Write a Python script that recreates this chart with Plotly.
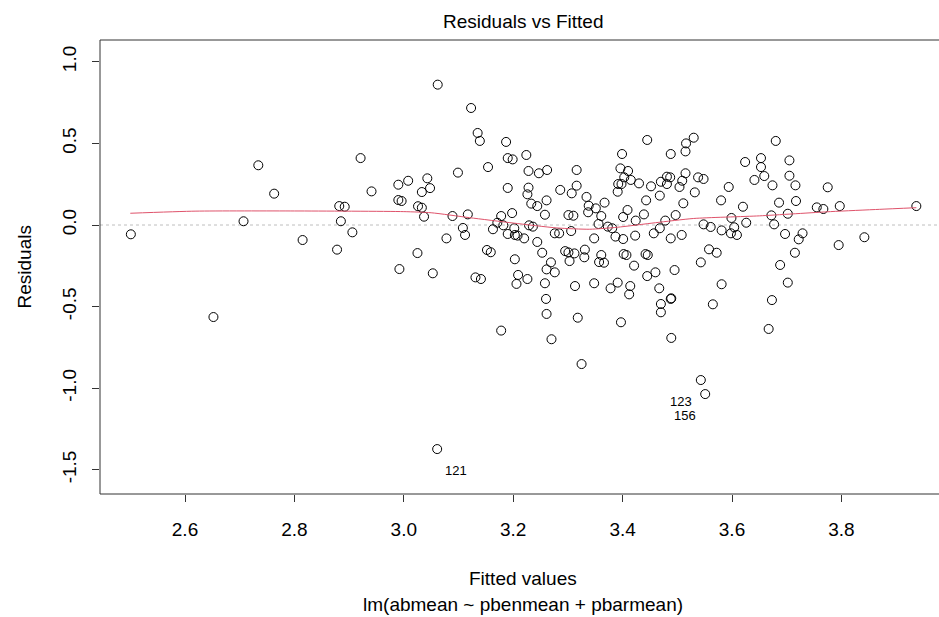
import plotly.graph_objects as go

# Fitted values and residuals of lm(abmean ~ pbenmean + pbarmean)
fitted = [
    2.501, 2.652, 2.734, 2.763, 2.707, 2.815, 2.921, 2.941, 2.990, 3.008,
    3.043, 3.033, 3.048, 2.882, 2.892, 2.885, 2.906, 2.878, 2.990, 2.996,
    3.026, 3.033, 3.037, 3.025, 2.992, 3.053,
    3.062, 3.123, 3.135, 3.139, 3.187, 3.224, 3.190, 3.199, 3.154, 3.099,
    3.228, 3.247, 3.262, 3.190, 3.228, 3.226, 3.233, 3.244, 3.261, 3.258,
    3.286, 3.089, 3.117, 3.178, 3.198, 3.171, 3.182, 3.163, 3.108, 3.112,
    3.078, 3.190, 3.202, 3.203, 3.208, 3.220, 3.229, 3.236, 3.244, 3.276,
    3.284, 3.152, 3.159, 3.253,
    3.131, 3.141, 3.203, 3.209, 3.206, 3.226, 3.269, 3.261, 3.276, 3.258,
    3.260, 3.261, 3.178, 3.270, 3.061,
    3.445, 3.530, 3.516, 3.515, 3.488, 3.399, 3.316, 3.396, 3.410, 3.403,
    3.415, 3.392, 3.398, 3.430, 3.391, 3.452, 3.470, 3.481, 3.487, 3.481,
    3.504, 3.509, 3.515, 3.532, 3.316, 3.307, 3.334, 3.338, 3.337, 3.351,
    3.367, 3.361, 3.301, 3.310, 3.443, 3.468, 3.511, 3.409, 3.401, 3.439,
    3.424, 3.478, 3.497, 3.356, 3.373, 3.381, 3.306, 3.387, 3.401, 3.423,
    3.348, 3.457, 3.468, 3.488, 3.508, 3.295, 3.301, 3.331,
    3.303, 3.312, 3.330, 3.361, 3.357, 3.366, 3.402, 3.407, 3.442, 3.446,
    3.421, 3.445, 3.460, 3.495, 3.313, 3.348, 3.378, 3.391, 3.414, 3.412,
    3.467, 3.470, 3.470, 3.488, 3.489, 3.318, 3.397, 3.489, 3.325, 3.543,
    3.551,
    3.680, 3.624, 3.653, 3.653, 3.705, 3.659, 3.641, 3.705, 3.538, 3.548,
    3.594, 3.674, 3.716, 3.580, 3.620, 3.686, 3.717, 3.755, 3.767, 3.775,
    3.599, 3.672, 3.702, 3.548, 3.561, 3.604, 3.626, 3.677, 3.581, 3.598,
    3.609, 3.697, 3.729, 3.722,
    3.558, 3.572, 3.543, 3.581, 3.565, 3.715, 3.688, 3.702, 3.673, 3.667,
    3.797, 3.937, 3.842, 3.795,
]
residuals = [
    -0.057, -0.564, 0.366, 0.192, 0.023, -0.092, 0.410, 0.206, 0.247, 0.271,
    0.286, 0.202, 0.226, 0.116, 0.112, 0.023, -0.045, -0.151, 0.153, 0.147,
    0.115, 0.106, 0.051, -0.172, -0.270, -0.296,
    0.860, 0.717, 0.564, 0.515, 0.509, 0.429, 0.410, 0.402, 0.355, 0.321,
    0.331, 0.317, 0.337, 0.227, 0.229, 0.188, 0.131, 0.116, 0.151, 0.063,
    0.215, 0.055, 0.065, 0.055, 0.073, 0.014, -0.002, -0.026, -0.018, -0.061,
    -0.082, -0.055, -0.020, -0.061, -0.065, -0.082, -0.002, -0.010, -0.104, -0.051,
    -0.051, -0.153, -0.167, -0.170,
    -0.321, -0.331, -0.210, -0.306, -0.361, -0.331, -0.229, -0.272, -0.290, -0.357,
    -0.453, -0.545, -0.647, -0.700, -1.373,
    0.521, 0.535, 0.500, 0.451, 0.435, 0.435, 0.337, 0.347, 0.331, 0.292,
    0.276, 0.251, 0.251, 0.255, 0.204, 0.237, 0.265, 0.296, 0.292, 0.251,
    0.233, 0.271, 0.317, 0.200, 0.241, 0.194, 0.172, 0.118, 0.078, 0.102,
    0.137, 0.055, 0.061, 0.057, 0.151, 0.180, 0.133, 0.092, 0.049, 0.065,
    0.027, 0.027, 0.061, 0.006, -0.010, -0.020, -0.037, -0.071, -0.086, -0.065,
    -0.082, -0.051, -0.020, -0.082, -0.061, -0.160, -0.168, -0.151,
    -0.221, -0.174, -0.198, -0.184, -0.227, -0.231, -0.178, -0.184, -0.178, -0.184,
    -0.249, -0.313, -0.290, -0.276, -0.374, -0.357, -0.388, -0.353, -0.374, -0.425,
    -0.388, -0.484, -0.535, -0.453, -0.449, -0.568, -0.596, -0.692, -0.852, -0.950,
    -1.036,
    0.515, 0.386, 0.410, 0.355, 0.396, 0.300, 0.276, 0.302, 0.292, 0.282,
    0.233, 0.243, 0.243, 0.151, 0.112, 0.137, 0.147, 0.108, 0.098, 0.231,
    0.043, 0.059, 0.069, 0.004, -0.012, -0.014, 0.014, 0.004, -0.033, -0.051,
    -0.061, -0.055, -0.051, -0.088,
    -0.149, -0.170, -0.229, -0.363, -0.486, -0.170, -0.245, -0.353, -0.460, -0.637,
    0.116, 0.116, -0.075, -0.123,
]

# Lowess smooth of residuals on fitted values
smooth_fitted = [2.50, 2.62, 2.80, 3.00, 3.05, 3.12, 3.20, 3.28, 3.34, 3.39,
                 3.46, 3.53, 3.65, 3.78, 3.87, 3.937]
smooth_resid = [0.072, 0.085, 0.086, 0.082, 0.075, 0.045, 0.012, -0.018, -0.026, -0.014,
                0.014, 0.040, 0.056, 0.082, 0.096, 0.106]

# Observations with the largest residuals
id_labels = ["121", "123", "156"]
id_fitted = [3.061, 3.543, 3.551]
id_resid = [-1.373, -0.950, -1.036]
id_side = ["right", "left", "left"]

x_ticks = [2.6, 2.8, 3.0, 3.2, 3.4, 3.6, 3.8]
y_ticks = [-1.5, -1.0, -0.5, 0.0, 0.5, 1.0]

FONT = "Liberation Sans, Arial, Helvetica, sans-serif"
W, H = 939, 617
L, R, T, B = 100, 1, 40, 123
PW, PH = W - L - R, H - T - B

x_range = [2.44461, 3.97660]
y_range = [-1.6483, 1.1336]

fig = go.Figure()

fig.add_trace(go.Scatter(
    x=fitted, y=residuals, mode="markers",
    marker=dict(symbol="circle-open", size=9, color="black", line=dict(width=1, color="black")),
    hoverinfo="x+y",
))

fig.add_trace(go.Scatter(
    x=smooth_fitted, y=smooth_resid, mode="lines",
    line=dict(color="#DF536B", width=1, shape="spline", smoothing=0.6),
    hoverinfo="skip",
))

# dotted reference line at zero
fig.add_shape(type="line", xref="paper", yref="y", x0=0, x1=1, y0=0, y1=0,
              line=dict(color="#BEBEBE", width=1, dash="dot"), layer="below")

# plot frame (right edge runs past the page)
fig.add_shape(type="rect", xref="paper", yref="paper",
              x0=0, x1=(948 - L) / PW, y0=0, y1=1,
              line=dict(color="#333333", width=1))

for lab, fx, ry, side in zip(id_labels, id_fitted, id_resid, id_side):
    fig.add_annotation(
        x=fx, y=ry, xref="x", yref="y", text=lab, showarrow=False,
        xanchor="left" if side == "right" else "right", yanchor="middle",
        xshift=6 if side == "right" else -7, yshift=-21,
        font=dict(family=FONT, size=13, color="black"),
    )

def py(px_y):
    return (H - B - px_y) / PH

def px(px_x):
    return (px_x - L) / PW

texts = [
    ("Residuals vs Fitted", 523.3, 21.7, 0),
    ("Fitted values", 523.3, 578.3, 0),
    ("lm(abmean ~ pbenmean + pbarmean)", 523.3, 604.5, 0),
    ("Residuals", 23.5, 267, -90),
]
for t, x0, y0, ang in texts:
    fig.add_annotation(
        x=px(x0), y=py(y0), xref="paper", yref="paper", text=t, showarrow=False,
        xanchor="center", yanchor="middle", textangle=ang,
        font=dict(family=FONT, size=19, color="black"),
    )

fig.update_layout(
    width=W, height=H,
    margin=dict(l=L, r=R, t=T, b=B, pad=0),
    paper_bgcolor="white", plot_bgcolor="white",
    showlegend=False,
    font=dict(family=FONT, size=19, color="black"),
    xaxis=dict(
        range=x_range, tickvals=x_ticks, ticktext=[f"{v:.1f}" for v in x_ticks],
        ticks="outside", ticklen=7, tickwidth=1, tickcolor="#333333",
        showgrid=False, zeroline=False, showline=False,
        tickfont=dict(family=FONT, size=19, color="black"),
        ticklabelstandoff=11,
    ),
    yaxis=dict(
        range=y_range, tickvals=y_ticks, ticktext=[f"{v:.1f}" for v in y_ticks],
        ticks="outside", ticklen=7, tickwidth=1, tickcolor="#333333",
        showgrid=False, zeroline=False, showline=False, tickangle=-90,
        tickfont=dict(family=FONT, size=19, color="black"),
        ticklabelstandoff=8,
    ),
)

fig.write_html("out.html")
